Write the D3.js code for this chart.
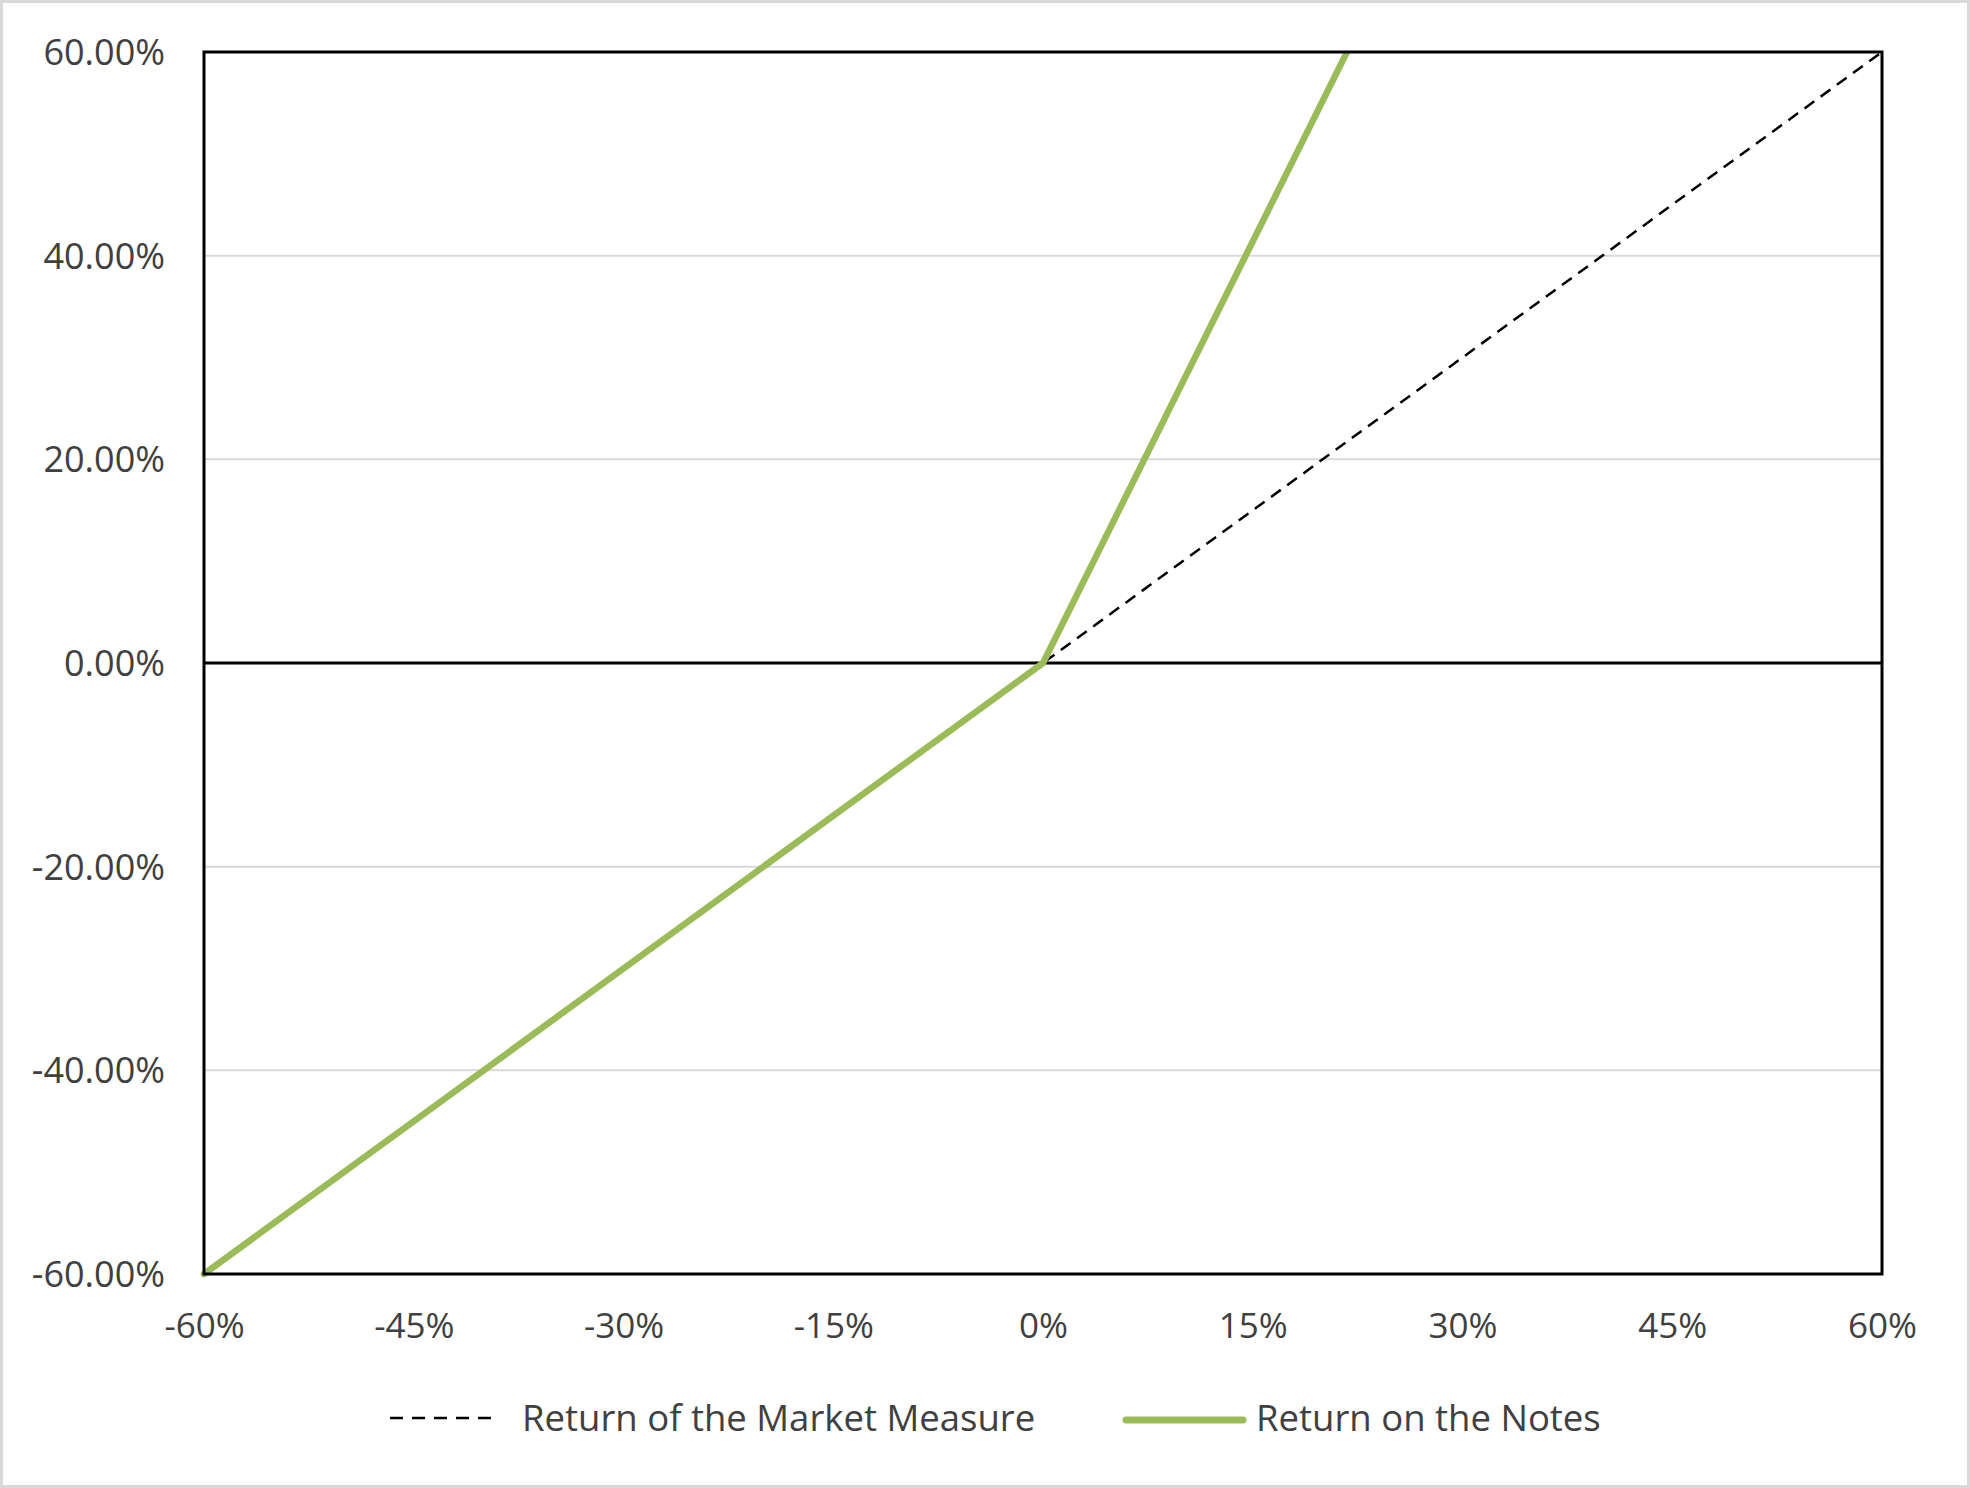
<!DOCTYPE html>
<html>
<head>
<meta charset="utf-8">
<script src="https://cdn.jsdelivr.net/npm/d3@7"></script>
<style>
  html, body { margin: 0; padding: 0; background: #fff; }
  svg { display: block; }
  text { font-family: "Open Sans", "Noto Sans", sans-serif; fill: #404040; }
</style>
</head>
<body>
<svg id="chart" width="1970" height="1488"></svg>
<script>
// Data (returns in percent)
const marketX = [-60, 60];
const marketY = [-60, 60];
const notesX = [-60, 0, 15, 30];
const notesY = [-60, 0, 41.4, 82.8];
const xTicks = [-60, -45, -30, -15, 0, 15, 30, 45, 60];
const yTicks = [-60, -40, -20, 0, 20, 40, 60];
const seriesNames = ["Return of the Market Measure", "Return on the Notes"];

const W = 1970, H = 1488;
const plot = { left: 204, right: 1882, top: 52, bottom: 1274 };

const svg = d3.select("#chart");

// outer border
svg.append("rect")
  .attr("x", 1.5).attr("y", 1.5)
  .attr("width", W - 3).attr("height", H - 3)
  .attr("fill", "#fff").attr("stroke", "#d9d9d9").attr("stroke-width", 3);

const x = d3.scaleLinear().domain([-60, 60]).range([plot.left, plot.right]);
const y = d3.scaleLinear().domain([-60, 60]).range([plot.bottom, plot.top]);

// gridlines
svg.append("g")
  .selectAll("line")
  .data(yTicks.filter(d => d !== 0 && d !== 60 && d !== -60))
  .join("line")
  .attr("x1", plot.left).attr("x2", plot.right)
  .attr("y1", d => y(d)).attr("y2", d => y(d))
  .attr("stroke", "#d9d9d9").attr("stroke-width", 2);

// y-axis labels
const yAxis = d3.axisLeft(y).tickValues(yTicks)
  .tickFormat(d => d.toFixed(2) + "%")
  .tickSize(0).tickPadding(39);
const gy = svg.append("g").attr("transform", `translate(${plot.left},0)`).call(yAxis);
gy.select(".domain").remove();
gy.selectAll("text")
  .attr("font-size", 36).attr("font-family", "'Open Sans', sans-serif").attr("fill", "#404040")
  .attr("dy", "0.35em");

// x-axis labels
const xAxis = d3.axisBottom(x).tickValues(xTicks)
  .tickFormat(d => d + "%")
  .tickSize(0).tickPadding(40);
const gx = svg.append("g").attr("transform", `translate(0,${plot.bottom})`).call(xAxis);
gx.select(".domain").remove();
gx.selectAll("text")
  .attr("font-size", 35).attr("font-family", "'Open Sans', sans-serif").attr("fill", "#404040")
  .attr("dy", "0.35em");
gx.selectAll(".tick text").attr("y", 52);

// zero line
svg.append("line")
  .attr("x1", plot.left).attr("x2", plot.right)
  .attr("y1", y(0)).attr("y2", y(0))
  .attr("stroke", "#000").attr("stroke-width", 3);

// clip
svg.append("defs").append("clipPath").attr("id", "clip")
  .append("rect")
  .attr("x", plot.left - 4).attr("y", plot.top)
  .attr("width", plot.right - plot.left + 8).attr("height", plot.bottom - plot.top + 4);

const line = d3.line().x(d => x(d[0])).y(d => y(d[1]));

// market line (dashed)
svg.append("path")
  .datum(marketX.map((v, i) => [v, marketY[i]]))
  .attr("d", line)
  .attr("fill", "none").attr("stroke", "#000")
  .attr("stroke-width", 2.5).attr("stroke-dasharray", "12,8")
  .attr("clip-path", "url(#clip)");

// notes line
svg.append("path")
  .datum(notesX.map((v, i) => [v, notesY[i]]))
  .attr("d", line)
  .attr("fill", "none").attr("stroke", "#9bbb59")
  .attr("stroke-width", 6.5).attr("stroke-linejoin", "round").attr("stroke-linecap", "round")
  .attr("clip-path", "url(#clip)");

// plot frame
svg.append("rect")
  .attr("x", plot.left).attr("y", plot.top)
  .attr("width", plot.right - plot.left).attr("height", plot.bottom - plot.top)
  .attr("fill", "none").attr("stroke", "#000").attr("stroke-width", 3);

// legend
const leg = svg.append("g");
const ly = 1418;
leg.append("line").attr("x1", 390).attr("x2", 499).attr("y1", ly).attr("y2", ly)
  .attr("stroke", "#000").attr("stroke-width", 2.5).attr("stroke-dasharray", "13,9");
leg.append("text").attr("x", 522).attr("y", ly).attr("dy", "0.35em")
  .attr("font-size", 36.5).text(seriesNames[0]);
leg.append("line").attr("x1", 1126).attr("x2", 1243).attr("y1", ly + 2).attr("y2", ly + 2)
  .attr("stroke", "#9bbb59").attr("stroke-width", 7).attr("stroke-linecap", "round");
leg.append("text").attr("x", 1256).attr("y", ly).attr("dy", "0.35em")
  .attr("font-size", 36.5).text(seriesNames[1]);
</script>
</body>
</html>
